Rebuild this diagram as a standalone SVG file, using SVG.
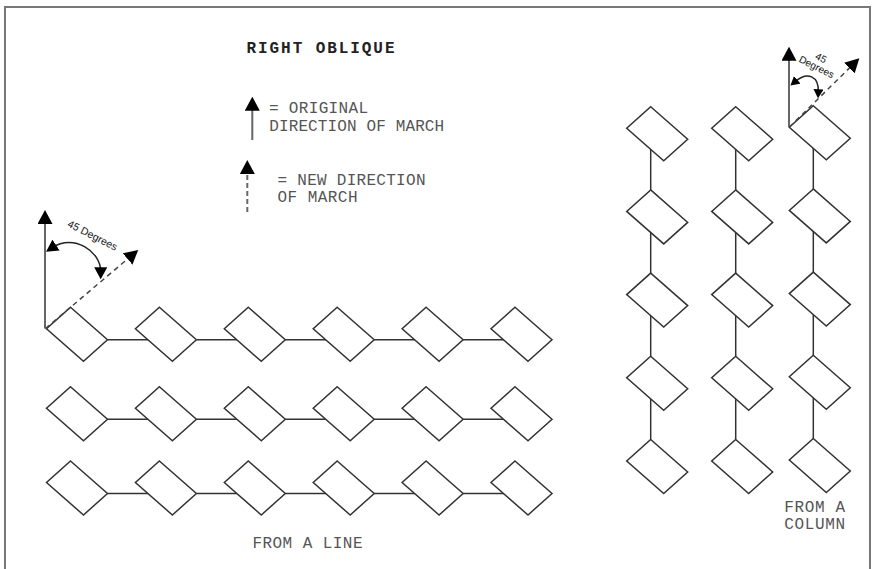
<svg xmlns="http://www.w3.org/2000/svg" xmlns:xlink="http://www.w3.org/1999/xlink" width="874" height="569" viewBox="0 0 874 569">
<style>
.dm{fill:#fff;stroke:#333;stroke-width:1.5;stroke-linejoin:miter}
.cn{stroke:#333;stroke-width:1.5;fill:none}
.sol{stroke:#666;stroke-width:2;fill:none}
.dash{stroke:#444;stroke-width:1.5;stroke-dasharray:5 4;fill:none}
.ldash{stroke:#666;stroke-width:2;stroke-dasharray:5 3;fill:none}
.arc{stroke:#222;stroke-width:1.5;fill:none}
.t{font-family:"Liberation Mono","Courier New",monospace;font-size:16px;fill:#555}
.tb{font-family:"Liberation Mono","Courier New",monospace;font-size:16px;font-weight:bold;fill:#222}
.deg{font-family:"Liberation Sans",Arial,sans-serif;fill:#111;text-anchor:middle}
</style>
<defs>
<polygon id="dmd" points="0,0 37,32.5 13,54 -24,21.5"/>
<marker id="ah" viewBox="0 0 14 15" refX="4" refY="7.5" markerWidth="14" markerHeight="15" markerUnits="userSpaceOnUse" orient="auto"><path d="M0,0 L14,7.5 L0,15 z" fill="#000"/></marker>
<marker id="ahs" viewBox="0 0 12 13" refX="4" refY="6.5" markerWidth="12" markerHeight="13" markerUnits="userSpaceOnUse" orient="auto-start-reverse"><path d="M0,0 L12,6.5 L0,13 z" fill="#000"/></marker>
<marker id="ahx" viewBox="0 0 9 10" refX="3" refY="5" markerWidth="9" markerHeight="10" markerUnits="userSpaceOnUse" orient="auto-start-reverse"><path d="M0,0 L9,5 L0,10 z" fill="#000"/></marker>
</defs>

<g id="frame" fill="none" stroke="#777" stroke-width="2">
<path d="M5,569 L5,7 L870,7 L870,569"/>
</g>

<g id="title"><text class="tb" x="246.5" y="53.3" textLength="148" lengthAdjust="spacing">RIGHT OBLIQUE</text></g>

<g id="legend">
<line class="sol" x1="252.3" y1="140" x2="252.3" y2="106.7" marker-end="url(#ah)"/>
<text class="t" x="269" y="113" textLength="99" lengthAdjust="spacing">= ORIGINAL</text>
<text class="t" x="269.2" y="130.5" textLength="175" lengthAdjust="spacing">DIRECTION OF MARCH</text>
<line class="ldash" x1="247.3" y1="212" x2="247.3" y2="170" marker-end="url(#ah)"/>
<text class="t" x="277.5" y="185" textLength="148" lengthAdjust="spacing">= NEW DIRECTION</text>
<text class="t" x="277.5" y="201.7" textLength="80" lengthAdjust="spacing">OF MARCH</text>
</g>

<g id="connectors">
<g id="line-connectors">
<line class="cn" x1="107.5" y1="339.8" x2="159.4" y2="339.8"/>
<line class="cn" x1="196.4" y1="339.8" x2="248.3" y2="339.8"/>
<line class="cn" x1="285.3" y1="339.8" x2="337.2" y2="339.8"/>
<line class="cn" x1="374.2" y1="339.8" x2="426.1" y2="339.8"/>
<line class="cn" x1="463.1" y1="339.8" x2="515" y2="339.8"/>
<line class="cn" x1="107.5" y1="419.2" x2="159.4" y2="419.2"/>
<line class="cn" x1="196.4" y1="419.2" x2="248.3" y2="419.2"/>
<line class="cn" x1="285.3" y1="419.2" x2="337.2" y2="419.2"/>
<line class="cn" x1="374.2" y1="419.2" x2="426.1" y2="419.2"/>
<line class="cn" x1="463.1" y1="419.2" x2="515" y2="419.2"/>
<line class="cn" x1="107.5" y1="493.5" x2="159.4" y2="493.5"/>
<line class="cn" x1="196.4" y1="493.5" x2="248.3" y2="493.5"/>
<line class="cn" x1="285.3" y1="493.5" x2="337.2" y2="493.5"/>
<line class="cn" x1="374.2" y1="493.5" x2="426.1" y2="493.5"/>
<line class="cn" x1="463.1" y1="493.5" x2="515" y2="493.5"/>
</g>
<g id="column-connectors">
<line class="cn" x1="650.7" y1="136.7" x2="650.7" y2="189.9"/>
<line class="cn" x1="650.7" y1="219.9" x2="650.7" y2="273.1"/>
<line class="cn" x1="650.7" y1="303.1" x2="650.7" y2="356.3"/>
<line class="cn" x1="650.7" y1="386.3" x2="650.7" y2="439.5"/>
<line class="cn" x1="735.7" y1="136.7" x2="735.7" y2="189.9"/>
<line class="cn" x1="735.7" y1="219.9" x2="735.7" y2="273.1"/>
<line class="cn" x1="735.7" y1="303.1" x2="735.7" y2="356.3"/>
<line class="cn" x1="735.7" y1="386.3" x2="735.7" y2="439.5"/>
<line class="cn" x1="813.3" y1="135.7" x2="813.3" y2="188.9"/>
<line class="cn" x1="813.3" y1="218.9" x2="813.3" y2="272.1"/>
<line class="cn" x1="813.3" y1="302.1" x2="813.3" y2="355.3"/>
<line class="cn" x1="813.3" y1="385.3" x2="813.3" y2="438.5"/>
</g>
</g>

<g id="line-formation">
<g id="l-r1-c1"><use xlink:href="#dmd" href="#dmd" class="dm" transform="translate(70.5,307.3)"/></g>
<g id="l-r1-c2"><use xlink:href="#dmd" href="#dmd" class="dm" transform="translate(159.4,307.3)"/></g>
<g id="l-r1-c3"><use xlink:href="#dmd" href="#dmd" class="dm" transform="translate(248.3,307.3)"/></g>
<g id="l-r1-c4"><use xlink:href="#dmd" href="#dmd" class="dm" transform="translate(337.2,307.3)"/></g>
<g id="l-r1-c5"><use xlink:href="#dmd" href="#dmd" class="dm" transform="translate(426.1,307.3)"/></g>
<g id="l-r1-c6"><use xlink:href="#dmd" href="#dmd" class="dm" transform="translate(515,307.3)"/></g>
<g id="l-r2-c1"><use xlink:href="#dmd" href="#dmd" class="dm" transform="translate(70.5,386.7)"/></g>
<g id="l-r2-c2"><use xlink:href="#dmd" href="#dmd" class="dm" transform="translate(159.4,386.7)"/></g>
<g id="l-r2-c3"><use xlink:href="#dmd" href="#dmd" class="dm" transform="translate(248.3,386.7)"/></g>
<g id="l-r2-c4"><use xlink:href="#dmd" href="#dmd" class="dm" transform="translate(337.2,386.7)"/></g>
<g id="l-r2-c5"><use xlink:href="#dmd" href="#dmd" class="dm" transform="translate(426.1,386.7)"/></g>
<g id="l-r2-c6"><use xlink:href="#dmd" href="#dmd" class="dm" transform="translate(515,386.7)"/></g>
<g id="l-r3-c1"><use xlink:href="#dmd" href="#dmd" class="dm" transform="translate(70.5,461)"/></g>
<g id="l-r3-c2"><use xlink:href="#dmd" href="#dmd" class="dm" transform="translate(159.4,461)"/></g>
<g id="l-r3-c3"><use xlink:href="#dmd" href="#dmd" class="dm" transform="translate(248.3,461)"/></g>
<g id="l-r3-c4"><use xlink:href="#dmd" href="#dmd" class="dm" transform="translate(337.2,461)"/></g>
<g id="l-r3-c5"><use xlink:href="#dmd" href="#dmd" class="dm" transform="translate(426.1,461)"/></g>
<g id="l-r3-c6"><use xlink:href="#dmd" href="#dmd" class="dm" transform="translate(515,461)"/></g>
</g>

<g id="column-formation">
<g id="c-c1-r1"><use xlink:href="#dmd" href="#dmd" class="dm" transform="translate(650.7,106.7)"/></g>
<g id="c-c1-r2"><use xlink:href="#dmd" href="#dmd" class="dm" transform="translate(650.7,189.9)"/></g>
<g id="c-c1-r3"><use xlink:href="#dmd" href="#dmd" class="dm" transform="translate(650.7,273.1)"/></g>
<g id="c-c1-r4"><use xlink:href="#dmd" href="#dmd" class="dm" transform="translate(650.7,356.3)"/></g>
<g id="c-c1-r5"><use xlink:href="#dmd" href="#dmd" class="dm" transform="translate(650.7,439.5)"/></g>
<g id="c-c2-r1"><use xlink:href="#dmd" href="#dmd" class="dm" transform="translate(735.7,106.7)"/></g>
<g id="c-c2-r2"><use xlink:href="#dmd" href="#dmd" class="dm" transform="translate(735.7,189.9)"/></g>
<g id="c-c2-r3"><use xlink:href="#dmd" href="#dmd" class="dm" transform="translate(735.7,273.1)"/></g>
<g id="c-c2-r4"><use xlink:href="#dmd" href="#dmd" class="dm" transform="translate(735.7,356.3)"/></g>
<g id="c-c2-r5"><use xlink:href="#dmd" href="#dmd" class="dm" transform="translate(735.7,439.5)"/></g>
<g id="c-c3-r1"><use xlink:href="#dmd" href="#dmd" class="dm" transform="translate(813.3,105.7)"/></g>
<g id="c-c3-r2"><use xlink:href="#dmd" href="#dmd" class="dm" transform="translate(813.3,188.9)"/></g>
<g id="c-c3-r3"><use xlink:href="#dmd" href="#dmd" class="dm" transform="translate(813.3,272.1)"/></g>
<g id="c-c3-r4"><use xlink:href="#dmd" href="#dmd" class="dm" transform="translate(813.3,355.3)"/></g>
<g id="c-c3-r5"><use xlink:href="#dmd" href="#dmd" class="dm" transform="translate(813.3,438.5)"/></g>
</g>

<g id="angle-line">
<line class="sol" x1="45" y1="328.5" x2="45" y2="220" marker-end="url(#ah)"/>
<line class="dash" x1="45.5" y1="328.5" x2="130.6" y2="256.4" marker-end="url(#ah)"/>
<path class="arc" d="M52.7,247.3 C73.6,233.5 100.7,251.3 100.7,271.3" marker-start="url(#ahs)" marker-end="url(#ahs)"/>
<text class="deg" font-size="10.5" transform="translate(91,238.5) rotate(27)">45 Degrees</text>
</g>

<g id="angle-column">
<line class="sol" x1="789" y1="127.3" x2="789" y2="56.7" marker-end="url(#ah)"/>
<line class="dash" x1="789.3" y1="127.2" x2="852.2" y2="65.3" marker-end="url(#ah)"/>
<path class="arc" d="M795,81.7 C807.5,71 819,76 818.3,92.3" marker-start="url(#ahx)" marker-end="url(#ahx)"/>
<g transform="translate(815,70) rotate(27)">
<text class="deg" font-size="10" x="0" y="-10">45</text>
<text class="deg" font-size="10" x="0" y="0">Degrees</text>
</g>
</g>

<g id="captions">
<text class="t" x="252.5" y="547.7" textLength="110" lengthAdjust="spacing">FROM A LINE</text>
<text class="t" x="784.2" y="511.7" textLength="61" lengthAdjust="spacing">FROM A</text>
<text class="t" x="784.2" y="529.3" textLength="61" lengthAdjust="spacing">COLUMN</text>
</g>
</svg>
